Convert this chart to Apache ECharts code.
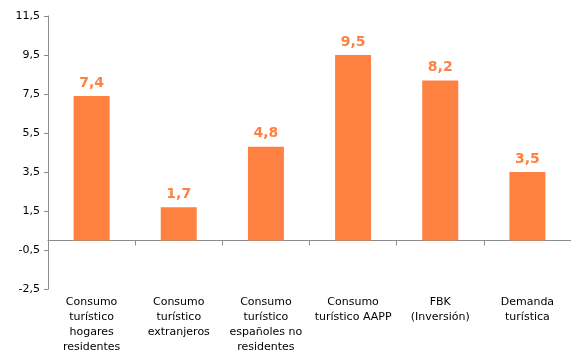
<!DOCTYPE html>
<html>
<head>
<meta charset="utf-8">
<script src="https://cdn.jsdelivr.net/npm/echarts@6/dist/echarts.min.js"></script>
<style>html,body{margin:0;padding:0;background:#fff}#c{width:571px;height:354px}</style>
</head>
<body>
<div id="c"></div>
<script>
var categories = [
  "Consumo\nturístico\nhogares\nresidentes",
  "Consumo\nturístico\nextranjeros",
  "Consumo\nturístico\nespañoles no\nresidentes",
  "Consumo\nturístico AAPP",
  "FBK\n(Inversión)",
  "Demanda\nturística"
];
var values = [7.4, 1.7, 4.8, 9.5, 8.2, 3.5];
var yMin = -2.5, yMax = 11.5, yStep = 2;

var font = "DejaVu Sans";
var chart = echarts.init(document.getElementById('c'), null, {renderer: 'canvas'});
chart.setOption({
  animation: false,
  grid: {left: 48, top: 16, bottom: 63, width: 527, containLabel: false},
  xAxis: [{
    type: 'category', data: categories, position: 'bottom',
    axisLine: {show: false, onZero: false}, axisTick: {show: false},
    axisLabel: {interval: 0, margin: 6, color: '#000', fontFamily: font, fontSize: 11, lineHeight: 14.7, align: 'center', verticalAlign: 'top'}
  }, {
    type: 'category', data: categories, position: 'bottom',
    axisLine: {show: true, onZero: true, lineStyle: {color: '#8c8c8c', width: 1}},
    axisTick: {show: true, interval: 0, length: 5, lineStyle: {color: '#8c8c8c'}},
    axisLabel: {show: false, interval: 0}
  }],
  yAxis: {
    type: 'value', min: yMin, max: yMax, interval: yStep,
    axisLine: {show: true, lineStyle: {color: '#8c8c8c'}},
    axisTick: {show: true, length: 4, inside: false, lineStyle: {color: '#8c8c8c'}},
    splitLine: {show: false},
    axisLabel: {color: '#000', fontFamily: font, fontSize: 11, margin: 8,
      formatter: function (v) { return v.toFixed(1).replace('.', ','); }}
  },
  series: [{
    type: 'bar', data: values, xAxisIndex: 0, barWidth: 36,
    itemStyle: {color: '#FF8141'},
    label: {show: true, position: 'top', distance: 6, color: '#FF8141', fontFamily: font, fontWeight: 'bold', fontSize: 14,
      formatter: function (p) { return p.value.toFixed(1).replace('.', ','); }}
  }]
});
</script>
</body>
</html>
